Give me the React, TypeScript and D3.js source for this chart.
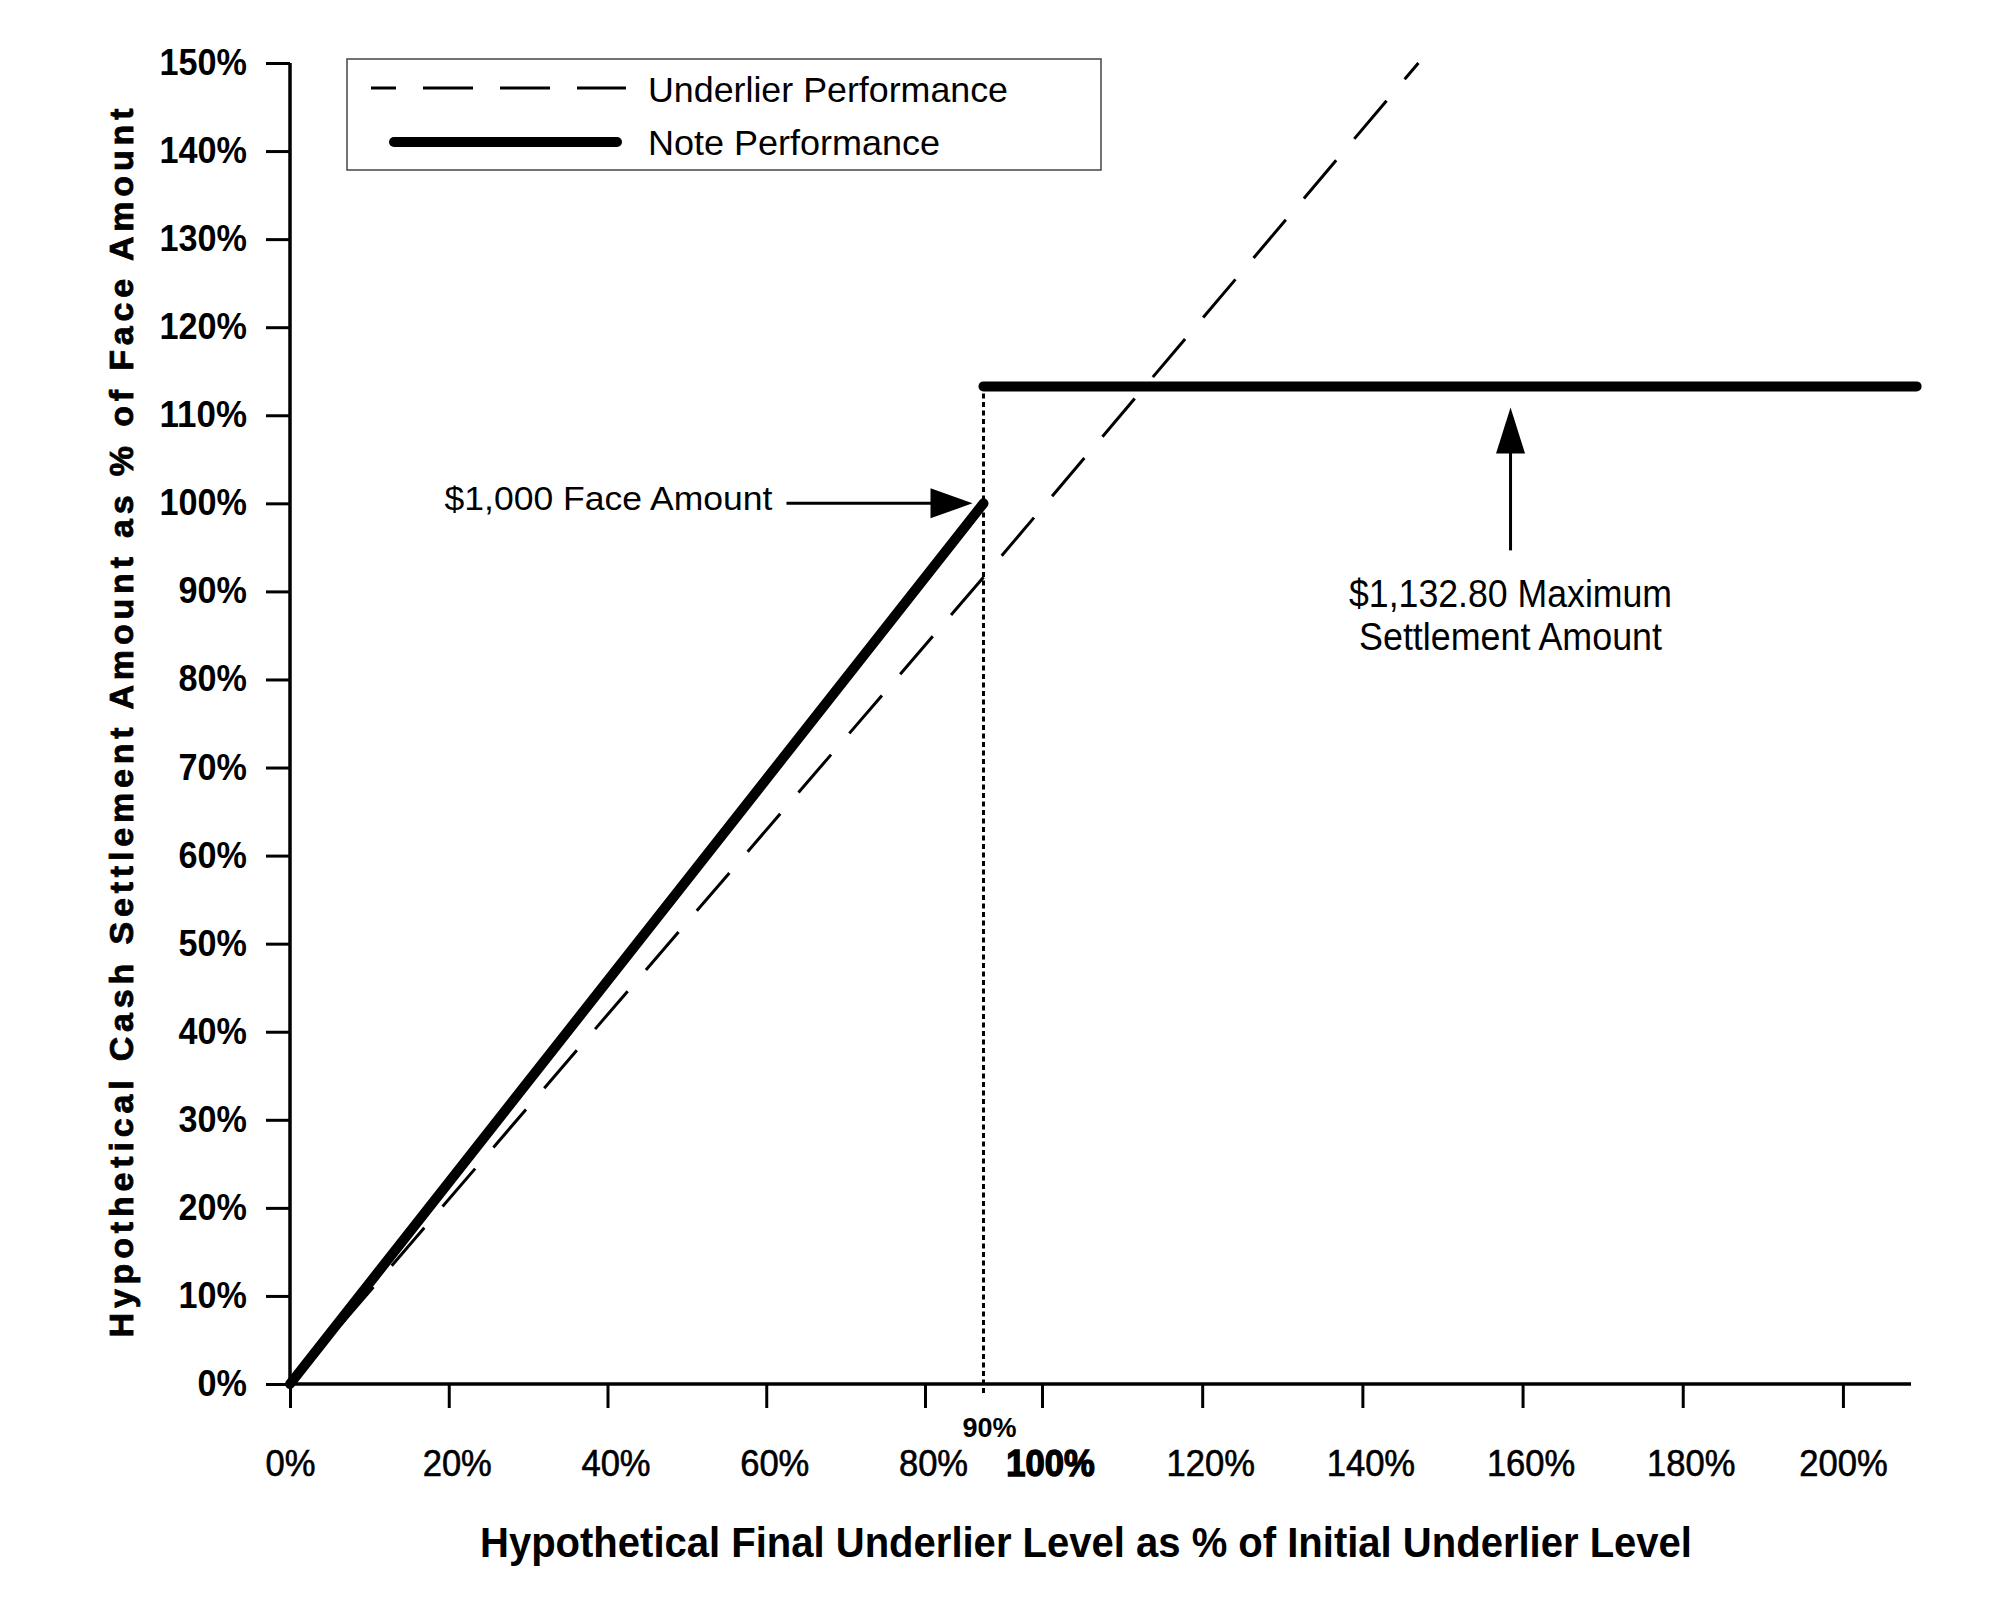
import { useEffect, useRef } from 'react';
import * as d3 from 'd3';

// Axis ticks (percent of initial / face amount)
const xTicks = [0, 20, 40, 60, 80, 100, 120, 140, 160, 180, 200];
const yTicks = [0, 10, 20, 30, 40, 50, 60, 70, 80, 90, 100, 110, 120, 130, 140, 150];

// Underlier performance (dashed)
const underlierX = [0, 90, 147];
const underlierY = [0, 91.6, 150];

// Note performance (thick): participation leg, then the capped leg
const noteX = [0, 90];
const noteY = [0, 100];
const capX = [90, 209.2];
const capLevel = 113.28;

const thresholdLevel = 90;
const maxArrowX = 158.5;

const FONT = "'Liberation Sans', Arial, Helvetica, sans-serif";

export default function App() {
  const svgRef = useRef<SVGSVGElement>(null);

  useEffect(() => {
    document.body.style.margin = '0';
    if (!svgRef.current) return;

    const width = 1994;
    const height = 1609;
    const margin = { top: 63, left: 290 };
    const innerWidth = 1621;
    const innerHeight = 1321;

    const svg = d3.select(svgRef.current);
    svg.selectAll('*').remove();
    svg.attr('width', width).attr('height', height);

    svg.append('rect').attr('width', width).attr('height', height).attr('fill', '#fff');

    const g = svg.append('g').attr('transform', `translate(${margin.left}, ${margin.top})`);

    // the source squeezes the 80%-100% band of the x axis
    const x = d3.scaleLinear()
      .domain([0, 80, 100, 208.5])
      .range([0, 635, 752, innerWidth]);

    const y = d3.scaleLinear()
      .domain([0, 150])
      .range([innerHeight, 0]);

    // Y axis
    const yAxis = g.append('g')
      .call(d3.axisLeft(y).tickValues(yTicks).tickSize(24).tickPadding(19).tickFormat(d => `${d}%`));
    yAxis.select('.domain').attr('stroke', '#000').attr('stroke-width', 3.5).attr('d', `M0,0V${innerHeight}`);
    yAxis.selectAll('.tick line').attr('stroke', '#000').attr('stroke-width', 3);
    yAxis.selectAll<SVGTextElement, number>('.tick text')
      .attr('font-family', FONT)
      .attr('font-size', 36)
      .attr('font-weight', 700)
      .attr('fill', '#000')
      .attr('textLength', d => (String(d).length * 0.556 + 0.889) * 36 * 0.95)
      .attr('lengthAdjust', 'spacingAndGlyphs');

    // X axis
    const xAxis = g.append('g')
      .attr('transform', `translate(0, ${innerHeight})`)
      .call(d3.axisBottom(x).tickValues(xTicks).tickSize(24).tickPadding(42).tickFormat(d => `${d}%`));
    xAxis.select('.domain').attr('stroke', '#000').attr('stroke-width', 3.5).attr('d', `M0,0H${innerWidth}`);
    xAxis.selectAll('.tick line').attr('stroke', '#000').attr('stroke-width', 3);
    xAxis.selectAll<SVGTextElement, number>('.tick text')
      .attr('font-family', FONT)
      .attr('font-size', 36)
      .attr('font-weight', d => (d === 100 ? 700 : 400))
      .attr('fill', '#000')
      .attr('dx', d => (d === 0 || d === 200 ? 0 : 8))
      .attr('stroke', '#000')
      .attr('stroke-width', d => (d === 100 ? 1.4 : 0.6))
      .attr('textLength', d => (String(d).length * 0.556 + 0.889) * 36 * 0.96)
      .attr('lengthAdjust', 'spacingAndGlyphs');

    // threshold label
    g.append('text')
      .attr('x', x(thresholdLevel) + 6)
      .attr('y', innerHeight + 53)
      .attr('text-anchor', 'middle')
      .attr('font-family', FONT)
      .attr('font-size', 27)
      .attr('font-weight', 700)
      .text(`${thresholdLevel}%`);

    // dotted threshold line
    g.append('line')
      .attr('x1', x(thresholdLevel))
      .attr('x2', x(thresholdLevel))
      .attr('y1', y(0) + 9)
      .attr('y2', y(capLevel))
      .attr('stroke', '#000')
      .attr('stroke-width', 3)
      .attr('stroke-dasharray', '5 3.5');

    const line = d3.line<[number, number]>()
      .x(d => x(d[0]))
      .y(d => y(d[1]));

    // Underlier
    g.append('path')
      .datum(underlierX.map((v, i) => [v, underlierY[i]] as [number, number]))
      .attr('d', line)
      .attr('fill', 'none')
      .attr('stroke', '#000')
      .attr('stroke-width', 3)
      .attr('stroke-dasharray', '50 28');

    // Note
    g.append('path')
      .datum(noteX.map((v, i) => [v, noteY[i]] as [number, number]))
      .attr('d', line)
      .attr('fill', 'none')
      .attr('stroke', '#000')
      .attr('stroke-width', 10)
      .attr('stroke-linecap', 'round');

    g.append('path')
      .datum(capX.map(v => [v, capLevel] as [number, number]))
      .attr('d', line)
      .attr('fill', 'none')
      .attr('stroke', '#000')
      .attr('stroke-width', 10)
      .attr('stroke-linecap', 'round');

    // $1,000 Face Amount annotation
    const tipX = x(thresholdLevel) - 11;
    const tipY = y(100);
    g.append('text')
      .attr('x', tipX - 200)
      .attr('y', tipY + 7)
      .attr('text-anchor', 'end')
      .attr('font-family', FONT)
      .attr('font-size', 34)
      .attr('textLength', 328)
      .attr('lengthAdjust', 'spacingAndGlyphs')
      .text('$1,000 Face Amount');
    g.append('line')
      .attr('x1', tipX - 186)
      .attr('x2', tipX - 40)
      .attr('y1', tipY)
      .attr('y2', tipY)
      .attr('stroke', '#000')
      .attr('stroke-width', 3);
    g.append('path')
      .attr('d', `M${tipX},${tipY}L${tipX - 42},${tipY - 15}L${tipX - 42},${tipY + 15}Z`)
      .attr('fill', '#000');

    // Maximum settlement annotation
    const mx = x(maxArrowX);
    const mTip = y(capLevel) + 21;
    g.append('path')
      .attr('d', `M${mx},${mTip}L${mx - 14.5},${mTip + 46}L${mx + 14.5},${mTip + 46}Z`)
      .attr('fill', '#000');
    g.append('line')
      .attr('x1', mx)
      .attr('x2', mx)
      .attr('y1', mTip + 40)
      .attr('y2', mTip + 143)
      .attr('stroke', '#000')
      .attr('stroke-width', 3);
    const maxText = g.append('text')
      .attr('text-anchor', 'middle')
      .attr('font-family', FONT)
      .attr('font-size', 38);
    maxText.append('tspan')
      .attr('x', mx)
      .attr('y', mTip + 200)
      .attr('textLength', 323)
      .attr('lengthAdjust', 'spacingAndGlyphs')
      .text('$1,132.80 Maximum');
    maxText.append('tspan')
      .attr('x', mx)
      .attr('y', mTip + 243)
      .attr('textLength', 303)
      .attr('lengthAdjust', 'spacingAndGlyphs')
      .text('Settlement Amount');

    // Axis titles
    svg.append('text')
      .attr('x', 1086)
      .attr('y', 1557)
      .attr('text-anchor', 'middle')
      .attr('font-family', FONT)
      .attr('font-size', 42)
      .attr('font-weight', 700)
      .attr('textLength', 1212)
      .attr('lengthAdjust', 'spacingAndGlyphs')
      .text('Hypothetical Final Underlier Level as % of Initial Underlier Level');

    svg.append('text')
      .attr('transform', 'translate(133, 723) rotate(-90)')
      .attr('text-anchor', 'middle')
      .attr('font-family', FONT)
      .attr('font-size', 34)
      .attr('font-weight', 700)
      .attr('stroke', '#000')
      .attr('stroke-width', 0.8)
      .attr('textLength', 1229)
      .attr('lengthAdjust', 'spacing')
      .text('Hypothetical Cash Settlement Amount as % of Face Amount');

    // Legend
    const legend = svg.append('g').attr('transform', 'translate(347, 59)');
    legend.append('rect')
      .attr('width', 754)
      .attr('height', 111)
      .attr('fill', '#fff')
      .attr('stroke', '#444')
      .attr('stroke-width', 1.5);
    legend.append('line')
      .attr('x1', 24).attr('x2', 279)
      .attr('y1', 29).attr('y2', 29)
      .attr('stroke', '#000')
      .attr('stroke-width', 3)
      .attr('stroke-dasharray', '50 27')
      .attr('stroke-dashoffset', 25);
    legend.append('line')
      .attr('x1', 47).attr('x2', 270)
      .attr('y1', 83).attr('y2', 83)
      .attr('stroke', '#000')
      .attr('stroke-width', 10)
      .attr('stroke-linecap', 'round');
    legend.append('text')
      .attr('x', 301).attr('y', 43)
      .attr('font-family', FONT)
      .attr('font-size', 35)
      .attr('textLength', 360)
      .attr('lengthAdjust', 'spacingAndGlyphs')
      .text('Underlier Performance');
    legend.append('text')
      .attr('x', 301).attr('y', 96)
      .attr('font-family', FONT)
      .attr('font-size', 35)
      .attr('textLength', 292)
      .attr('lengthAdjust', 'spacingAndGlyphs')
      .text('Note Performance');
  }, []);

  return <svg ref={svgRef} style={{ display: 'block' }}></svg>;
}
